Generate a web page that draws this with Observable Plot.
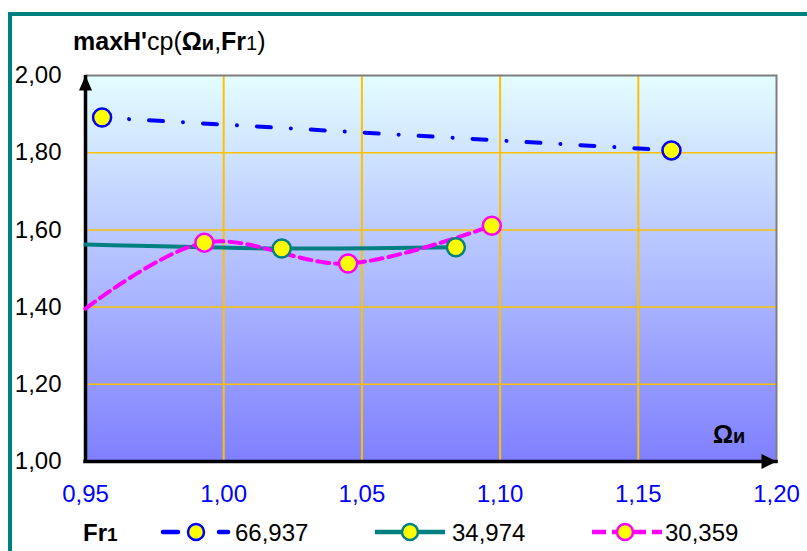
<!DOCTYPE html>
<html>
<head>
<meta charset="utf-8">
<script src="https://cdn.jsdelivr.net/npm/d3@7"></script>
<script src="https://cdn.jsdelivr.net/npm/@observablehq/plot@0.6"></script>
<style>
  html, body { margin: 0; padding: 0; background: #fff; overflow: hidden; }
  #wrap { position: relative; width: 807px; height: 551px; overflow: hidden; font-family: "Liberation Sans", Arial, sans-serif; color: #000; }
  #border { position: absolute; left: 8px; top: 12px; width: 830px; height: 580px; border-top: 4px solid #008080; border-left: 4px solid #008080; box-sizing: border-box; }
  #title { position: absolute; left: 73px; top: 29px; font-size: 25px; line-height: 25px; white-space: nowrap; }
  #xname { position: absolute; left: 713px; top: 422px; font-size: 25px; line-height: 24px; font-weight: bold; white-space: nowrap; }
  #chart { position: absolute; left: 0; top: 60px; }
  #legend { position: absolute; left: 0; top: 512px; }
  #chart g[aria-label^="x-axis"] text { fill: #0000FF; }
  #chart g[aria-label^="y-axis"] text { fill: #000; }
  .sm { font-size: 0.8em; }
</style>
</head>
<body>
<div id="wrap">
  <div id="border"></div>
  <div id="title"><b>maxH'</b>ср(<b>Ω<span class="sm">и</span></b>,<b>Fr</b><span class="sm">1</span>)</div>
  <div id="chart"></div>
  <div id="xname">Ω<span class="sm">и</span></div>
  <svg id="legend" width="807" height="39"></svg>
</div>
<script>
// ---- data ----
const seriesNames = ["66,937", "34,974", "30,359"];
const seriesColors = ["#0000FF", "#008080", "#FF00FF"];

const xBlue = [0.956, 1.162];
const yBlue = [1.891, 1.806];

const xTeal = [0.95, 1.021, 1.084];
const yTeal = [1.562, 1.552, 1.555];
const tealMarked = [false, true, true];

const xPink = [0.95, 0.993, 1.045, 1.097];
const yPink = [1.396, 1.567, 1.513, 1.611];
const pinkMarked = [false, true, true, true];

const xTicks = [0.95, 1.00, 1.05, 1.10, 1.15, 1.20];
const yTicks = [1.00, 1.20, 1.40, 1.60, 1.80, 2.00];
const xGrid = [1.00, 1.05, 1.10, 1.15];
const yGrid = [1.20, 1.40, 1.60, 1.80];
const xDomain = [0.95, 1.20];
const yDomain = [1.00, 2.00];

// ---- build tables ----
const blue = xBlue.map((x, i) => ({x, y: yBlue[i], m: true}));
const teal = xTeal.map((x, i) => ({x, y: yTeal[i], m: tealMarked[i]}));
const pink = xPink.map((x, i) => ({x, y: yPink[i], m: pinkMarked[i]}));

const fmt = d => d3.format(".2f")(d).replace(".", ",");

const arrowUp = { draw(ctx) { ctx.moveTo(0, 0); ctx.lineTo(-6.5, 15); ctx.lineTo(6.5, 15); ctx.closePath(); } };
const arrowRight = { draw(ctx) { ctx.moveTo(0, 0); ctx.lineTo(-15, -7.5); ctx.lineTo(-15, 7.5); ctx.closePath(); } };

const dotStyle = (color) => ({x: "x", y: "y", r: 9, fill: "#FFFF00", stroke: color, strokeWidth: 2.5});

const chart = Plot.plot({
  width: 807,
  height: 450,
  marginLeft: 85,
  marginRight: 31,
  marginTop: 15,
  marginBottom: 49,
  style: { fontFamily: "'Liberation Sans', Arial, sans-serif", fontSize: "24px", background: "transparent", overflow: "visible" },
  x: { domain: xDomain, ticks: xTicks, tickFormat: fmt, tickSize: 0, tickPadding: 23, label: null },
  y: { domain: yDomain, ticks: yTicks, tickFormat: fmt, tickSize: 0, tickPadding: 24, label: null },
  marks: [
    Plot.frame({ fill: "url(#bgGrad)", stroke: null }),
    Plot.ruleX(xGrid, { stroke: "#FFC000", strokeWidth: 2 }),
    Plot.ruleY(yGrid, { stroke: "#FFC000", strokeWidth: 1.5 }),
    Plot.frame({ stroke: "#7F7F7F", strokeWidth: 2 }),
    Plot.ruleX([xDomain[0]], { stroke: "#000", strokeWidth: 3.5 }),
    Plot.ruleY([yDomain[0]], { stroke: "#000", strokeWidth: 3.5, strokeLinecap: "square" }),
    Plot.dot([{x: xDomain[0], y: yDomain[1]}], { x: "x", y: "y", symbol: arrowUp, fill: "#000", stroke: null, r: 5 }),
    Plot.dot([{x: xDomain[1], y: yDomain[0]}], { x: "x", y: "y", symbol: arrowRight, fill: "#000", stroke: null, r: 5 }),
    Plot.line(teal, { x: "x", y: "y", curve: "catmull-rom", stroke: seriesColors[1], strokeWidth: 4 }),
    Plot.line(pink, { x: "x", y: "y", curve: "catmull-rom", stroke: seriesColors[2], strokeWidth: 4, strokeDasharray: "12,6" }),
    Plot.line(blue, { x: "x", y: "y", stroke: seriesColors[0], strokeWidth: 4, strokeLinecap: "round", strokeDasharray: "14,20,0.01,20", strokeDashoffset: 7 }),
    Plot.dot(blue.filter(d => d.m), dotStyle(seriesColors[0])),
    Plot.dot(teal.filter(d => d.m), dotStyle(seriesColors[1])),
    Plot.dot(pink.filter(d => d.m), dotStyle(seriesColors[2]))
  ]
});

chart.insertAdjacentHTML("afterbegin",
  '<defs><linearGradient id="bgGrad" x1="0" y1="0" x2="0" y2="1">' +
  '<stop offset="0" stop-color="#E3FDFF"/><stop offset="1" stop-color="#7F7FFF"/>' +
  '</linearGradient></defs>');
document.getElementById("chart").appendChild(chart);

// ---- legend ----
const lg = d3.select("#legend");
const cy = 20;
const ff = "'Liberation Sans', Arial, sans-serif";
const t0 = lg.append("text").attr("x", 83).attr("y", cy + 8.5).attr("font-family", ff).attr("font-size", 24).attr("font-weight", "bold");
t0.append("tspan").text("Fr");
t0.append("tspan").attr("font-size", 19).text("1");

const sw = [161, 375, 592];
const tx = [235, 452, 665];
// blue
lg.append("line").attr("x1", sw[0] + 2).attr("x2", sw[0] + 17).attr("y1", cy).attr("y2", cy).attr("stroke", seriesColors[0]).attr("stroke-width", 4.5).attr("stroke-linecap", "round");
lg.append("line").attr("x1", sw[0] + 58).attr("x2", sw[0] + 67).attr("y1", cy).attr("y2", cy).attr("stroke", seriesColors[0]).attr("stroke-width", 4.5).attr("stroke-linecap", "round");
// teal
lg.append("line").attr("x1", sw[1]).attr("x2", sw[1] + 70).attr("y1", cy).attr("y2", cy).attr("stroke", seriesColors[1]).attr("stroke-width", 4.5);
// pink
lg.append("line").attr("x1", sw[2]).attr("x2", sw[2] + 70).attr("y1", cy).attr("y2", cy).attr("stroke", seriesColors[2]).attr("stroke-width", 4.5).attr("stroke-dasharray", "14,6");
const mx = [sw[0] + 35, sw[1] + 35, sw[2] + 33];
seriesNames.forEach((name, i) => {
  lg.append("circle").attr("cx", mx[i]).attr("cy", cy).attr("r", 8).attr("fill", "#FFFF00").attr("stroke", seriesColors[i]).attr("stroke-width", 2.5);
  lg.append("text").attr("x", tx[i]).attr("y", cy + 8.5).attr("font-family", ff).attr("font-size", 24).text(name);
});
</script>
</body>
</html>
